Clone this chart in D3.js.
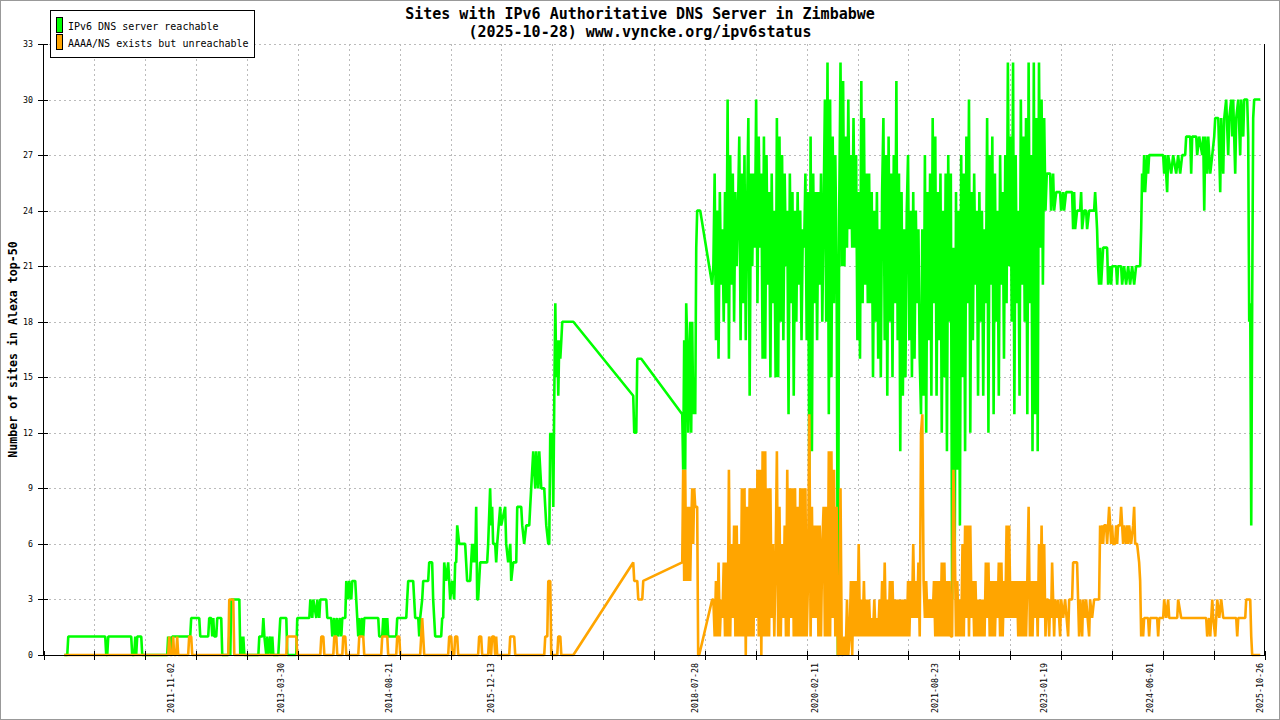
<!DOCTYPE html>
<html>
<head>
<meta charset="utf-8">
<script src="https://cdn.jsdelivr.net/npm/d3@7"></script>
<style>
body { margin: 0; background: #fff; }
text { font-family: "DejaVu Sans Mono", "Liberation Mono", monospace; }
</style>
</head>
<body>
<div id="chart"></div>
<script>
// date labels on the x axis
var xLabels = ["2011-11-02", "2013-03-30", "2014-08-21", "2015-12-13", "2018-07-28",
  "2020-02-11", "2021-08-23", "2023-01-19", "2024-06-01", "2025-10-26"];

// y tick labels
var yTicks = [0, 3, 6, 9, 12, 15, 18, 21, 24, 27, 30, 33];

// time span of the axis
var xStart = "2010-03-13";
var xEnd = "2025-11-18";

// reachable, before the busy period: [decimal year, sites]
var greenEarly = [
  [2010.462,0],[2010.500,0],[2010.513,1],[2010.988,1],[2011.001,0],[2011.014,0],[2011.027,1],
  [2011.322,1],[2011.335,0],[2011.361,0],[2011.374,1],[2011.386,0],[2011.399,1],[2011.451,1],
  [2011.464,0],[2011.785,0],[2011.797,1],[2011.810,0],[2011.823,1],[2011.836,0],[2011.849,1],
  [2012.080,1],[2012.093,2],[2012.196,2],[2012.209,1],[2012.311,1],[2012.324,2],[2012.350,2],
  [2012.363,1],[2012.376,2],[2012.388,1],[2012.414,1],[2012.427,2],[2012.478,2],[2012.491,0],
  [2012.568,0],[2012.581,1],[2012.594,0],[2012.607,3],[2012.710,3],[2012.722,0],[2012.735,1],
  [2012.748,0],[2012.761,1],[2012.774,0],[2012.954,0],[2012.966,1],[2013.005,1],[2013.018,2],
  [2013.031,1],[2013.056,0],[2013.069,1],[2013.082,0],[2013.108,1],[2013.121,0],[2013.133,1],
  [2013.146,0],[2013.210,0],[2013.223,1],[2013.236,2],[2013.313,2],[2013.326,0],[2013.441,0],
  [2013.454,2],[2013.609,2],[2013.622,3],[2013.647,2],[2013.660,3],[2013.699,2],[2013.711,3],
  [2013.737,2],[2013.750,3],[2013.827,3],[2013.840,2],[2013.891,2],[2013.904,1],[2013.930,2],
  [2013.943,1],[2013.968,2],[2013.981,1],[2014.007,2],[2014.020,1],[2014.033,2],[2014.071,2],
  [2014.084,4],[2014.110,3],[2014.122,4],[2014.148,3],[2014.161,4],[2014.199,4],[2014.212,3],
  [2014.225,2],[2014.238,1],[2014.251,2],[2014.264,1],[2014.289,2],[2014.302,1],[2014.315,2],
  [2014.495,2],[2014.508,1],[2014.546,1],[2014.559,2],[2014.572,1],[2014.585,2],[2014.598,1],
  [2014.611,2],[2014.623,1],[2014.726,1],[2014.739,2],[2014.855,2],[2014.867,3],[2014.880,4],
  [2014.944,4],[2014.957,3],[2014.970,2],[2015.009,2],[2015.022,1],[2015.034,2],[2015.060,3],
  [2015.073,4],[2015.137,4],[2015.150,5],[2015.188,5],[2015.201,3],[2015.214,2],[2015.227,1],
  [2015.304,1],[2015.317,2],[2015.330,2],[2015.343,5],[2015.368,4],[2015.394,5],[2015.420,3],
  [2015.445,4],[2015.471,3],[2015.484,5],[2015.497,5],[2015.510,7],[2015.535,6],[2015.612,6],
  [2015.625,5],[2015.638,4],[2015.677,4],[2015.689,5],[2015.702,6],[2015.715,5],[2015.728,6],
  [2015.741,5],[2015.754,8],[2015.767,3],[2015.779,3],[2015.805,5],[2015.895,5],[2015.908,6],
  [2015.933,9],[2015.946,7],[2015.959,8],[2015.972,6],[2015.998,6],[2016.011,5],[2016.024,6],
  [2016.062,8],[2016.075,7],[2016.126,8],[2016.139,6],[2016.165,5],[2016.191,6],[2016.204,4],
  [2016.229,5],[2016.268,5],[2016.281,8],[2016.332,8],[2016.345,7],[2016.370,6],[2016.396,7],
  [2016.435,7],[2016.447,8],[2016.473,10],[2016.486,11],[2016.512,9],[2016.524,11],[2016.550,9],
  [2016.563,11],[2016.589,9],[2016.627,9],[2016.640,8],[2016.653,7],[2016.679,6],[2016.691,6],
  [2016.704,12],[2016.717,11],[2016.730,12],[2016.743,8],[2016.756,14],[2016.769,19],[2016.781,15],
  [2016.794,17],[2016.807,14],[2016.820,17],[2016.833,16],[2016.846,17],[2016.858,18],[2017.000,18],
  [2017.770,14],[2017.783,12],[2017.809,12],[2017.822,16],[2017.873,16],[2018.400,13],[2018.412,10],
  [2018.425,17],[2018.438,10],[2018.451,19],[2018.464,17],[2018.477,12],[2018.502,18],[2018.515,12],
  [2018.528,18],[2018.541,13],[2018.554,15],[2018.567,13],[2018.580,22],[2018.592,24],[2018.631,24],
  [2018.785,20]
];

// the busy period is sampled every sixtieth of a year
var denseStart = 2018.80;
var denseStep = 1 / 60;

var greenDense = [
  21,26,17,24,16,25,20,23,18,25, 19,30,16,27,20,26,18,25,21,24,
  28,17,26,19,27,17,24,29,14,26, 21,26,22,30,19,28,22,26,16,28,
  16,27,20,25,15,26,19,24,15,29, 15,28,18,27,17,26,21,24,13,26,
  19,25,14,24,18,25,20,24,17,23, 22,26,17,25,10,28,11,26,19,25,
  17,25,20,26,18,24,30,18,32,13, 30,15,28,19,27,21,0,24,32,21,
  31,21,28,22,30,23,27,22,29,22, 27,17,25,16,31,19,29,20,26,19,
  26,19,25,15,24,18,25,16,23,15, 25,29,17,27,14,28,18,26,15,27,
  19,31,17,26,11,25,14,23,15,24, 27,17,24,15,25,16,24,19,23,16,
  13,23,14,27,12,25,17,26,14,29, 19,28,14,25,17,26,12,24,15,26,
  11,27,18,26,3,22,5,25,10,24, 7,27,15,26,11,28,19,30,12,25,
  17,26,20,24,14,25,18,24,14,23, 19,29,12,27,20,28,13,26,18,24,
  14,27,20,25,16,27,19,32,21,28, 18,32,13,27,19,24,14,30,20,28,
  18,29,13,32,19,27,11,32,13,29, 11,32,22,30,20,29,24,26
];

var greenLate = [
  [2023.101,26],[2023.127,26],[2023.139,24],[2023.165,26],[2023.178,24],[2023.204,25],[2023.255,25],
  [2023.268,24],[2023.294,25],[2023.306,24],[2023.332,25],[2023.409,25],[2023.422,23],[2023.435,25],
  [2023.448,23],[2023.473,24],[2023.512,24],[2023.525,25],[2023.538,23],[2023.563,24],[2023.589,24],
  [2023.602,23],[2023.628,24],[2023.692,24],[2023.705,25],[2023.718,24],[2023.730,23],[2023.743,21],
  [2023.756,20],[2023.769,22],[2023.782,20],[2023.795,21],[2023.808,22],[2023.859,22],[2023.872,20],
  [2023.898,21],[2023.911,20],[2023.923,21],[2023.975,21],[2023.988,20],[2024.000,21],[2024.039,21],
  [2024.052,20],[2024.077,21],[2024.103,20],[2024.129,21],[2024.154,20],[2024.180,21],[2024.206,20],
  [2024.231,21],[2024.283,21],[2024.296,23],[2024.308,26],[2024.321,25],[2024.334,27],[2024.347,25],
  [2024.373,27],[2024.385,26],[2024.398,27],[2024.578,27],[2024.591,26],[2024.604,27],[2024.629,25],
  [2024.642,27],[2024.681,26],[2024.706,27],[2024.745,26],[2024.770,27],[2024.796,26],[2024.822,27],
  [2024.860,27],[2024.873,28],[2024.925,28],[2024.937,26],[2024.950,28],[2025.002,28],[2025.014,27],
  [2025.040,28],[2025.079,27],[2025.092,28],[2025.105,24],[2025.118,28],[2025.143,26],[2025.156,28],
  [2025.182,26],[2025.208,27],[2025.233,28],[2025.246,29],[2025.285,29],[2025.298,27],[2025.310,25],
  [2025.323,29],[2025.349,26],[2025.362,29],[2025.387,30],[2025.413,27],[2025.426,29],[2025.452,30],
  [2025.464,28],[2025.477,30],[2025.503,26],[2025.516,29],[2025.542,30],[2025.567,27],[2025.580,30],
  [2025.606,28],[2025.619,30],[2025.657,30],[2025.670,28],[2025.683,18],[2025.696,19],[2025.709,7],
  [2025.721,19],[2025.734,29],[2025.747,30],[2025.825,30]
];

// unreachable
var orangeEarly = [
  [2010.462,0],[2011.797,0],[2011.810,1],[2011.823,0],[2011.849,0],[2011.862,1],[2011.874,0],
  [2011.900,0],[2011.913,1],[2011.926,0],[2012.054,0],[2012.067,1],[2012.093,1],[2012.106,0],
  [2012.568,0],[2012.581,3],[2012.632,3],[2012.645,0],[2013.313,0],[2013.326,1],[2013.441,1],
  [2013.454,0],[2013.750,0],[2013.763,1],[2013.789,1],[2013.802,0],[2013.917,0],[2013.930,1],
  [2013.956,1],[2013.968,0],[2014.033,0],[2014.045,1],[2014.071,1],[2014.084,0],[2014.238,0],
  [2014.251,1],[2014.302,1],[2014.315,0],[2014.533,0],[2014.546,1],[2014.611,1],[2014.623,0],
  [2014.726,0],[2014.739,1],[2014.765,1],[2014.778,0],[2015.034,0],[2015.047,1],[2015.060,2],
  [2015.073,1],[2015.086,0],[2015.394,0],[2015.407,1],[2015.433,1],[2015.445,0],[2015.471,0],
  [2015.484,1],[2015.510,1],[2015.523,0],[2015.779,0],[2015.792,1],[2015.818,1],[2015.831,0],
  [2015.908,0],[2015.921,1],[2015.946,0],[2015.959,1],[2015.985,1],[2015.998,0],[2016.011,1],
  [2016.024,0],[2016.178,0],[2016.191,1],[2016.242,1],[2016.255,0],[2016.627,0],[2016.640,1],
  [2016.666,1],[2016.679,4],[2016.704,4],[2016.717,0],[2016.794,0],[2016.807,1],[2016.833,1],
  [2016.846,0],[2017.000,0],[2017.770,5],[2017.783,4],[2017.822,4],[2017.835,3],[2017.886,3],
  [2017.899,4],[2018.400,5],[2018.412,10],[2018.425,4],[2018.438,10],[2018.451,4],[2018.464,8],
  [2018.477,4],[2018.490,8],[2018.502,4],[2018.515,7],[2018.528,9],[2018.541,6],[2018.554,9],
  [2018.567,8],[2018.592,8],[2018.605,0],[2018.618,0],[2018.785,3]
];

var orangeDense = [
  3,1,4,1,5,1,3,2,5,1, 5,1,10,1,6,2,7,1,7,1,
  6,1,9,1,9,0,8,1,9,1, 9,1,9,2,10,1,10,0,11,1,
  11,1,9,1,9,2,6,1,5,11, 1,8,1,6,2,7,1,10,1,9,
  2,9,1,9,1,8,1,9,1,9, 1,9,1,4,13,1,8,2,7,2,
  7,1,7,1,6,8,1,8,1,11, 1,11,2,10,1,8,0,0,9,0,
  0,1,0,3,0,1,4,0,4,1, 4,1,6,1,3,1,4,1,3,1,
  3,1,2,1,3,1,2,1,3,1, 4,1,5,1,3,1,4,1,4,1,
  3,1,3,1,3,1,3,1,3,1, 4,1,4,2,6,2,4,2,5,1,
  12,13,4,2,4,2,3,2,3,2, 4,1,4,1,4,1,5,1,5,1,
  4,1,4,1,1,10,6,1,4,1, 3,1,6,1,7,2,7,1,7,2,
  4,1,4,1,3,1,3,1,3,1, 5,2,5,1,4,1,4,1,4,2,
  5,1,5,1,4,2,7,2,7,2, 4,2,4,2,4,1,4,1,4,1,
  4,1,4,8,1,4,1,4,2,4, 1,6,2,7,2,6,1,3
];

var orangeLate = [
  [2023.101,3],[2023.114,1],[2023.127,3],[2023.139,2],[2023.152,5],[2023.165,3],[2023.178,1],
  [2023.191,3],[2023.216,2],[2023.229,3],[2023.255,1],[2023.268,3],[2023.294,2],[2023.319,3],
  [2023.358,1],[2023.371,3],[2023.409,3],[2023.422,5],[2023.473,5],[2023.486,3],[2023.499,1],
  [2023.512,3],[2023.538,1],[2023.550,3],[2023.576,2],[2023.589,3],[2023.628,1],[2023.640,3],
  [2023.666,2],[2023.692,3],[2023.756,3],[2023.769,7],[2023.782,6],[2023.795,7],[2023.808,6],
  [2023.821,7],[2023.846,7],[2023.859,6],[2023.872,7],[2023.885,8],[2023.898,7],[2023.911,6],
  [2023.923,7],[2023.936,6],[2023.962,6],[2023.975,7],[2023.988,6],[2024.000,7],[2024.026,7],
  [2024.039,8],[2024.052,7],[2024.065,6],[2024.077,7],[2024.103,6],[2024.116,7],[2024.129,6],
  [2024.142,7],[2024.167,6],[2024.193,7],[2024.206,8],[2024.219,6],[2024.244,6],[2024.270,5],
  [2024.283,4],[2024.296,1],[2024.308,2],[2024.321,1],[2024.334,2],[2024.385,2],[2024.398,1],
  [2024.411,2],[2024.501,2],[2024.514,1],[2024.527,2],[2024.578,2],[2024.591,3],[2024.617,2],
  [2024.642,3],[2024.655,2],[2024.758,2],[2024.770,3],[2024.809,2],[2025.130,2],[2025.143,1],
  [2025.169,2],[2025.182,1],[2025.195,2],[2025.208,3],[2025.220,2],[2025.246,1],[2025.259,2],
  [2025.272,3],[2025.298,2],[2025.323,3],[2025.349,2],[2025.516,2],[2025.529,1],[2025.542,2],
  [2025.632,2],[2025.644,3],[2025.696,3],[2025.709,1],[2025.721,0],[2025.825,0]
];

var W = 1280, H = 720;
var plotLeft = 43.5, plotRight = 1264.5, plotTop = 44, plotBottom = 655;

var parseDay = d3.utcParse("%Y-%m-%d");

// decimal year -> Date
function yearToDate(t) {
  var yr = Math.floor(t);
  var a = Date.UTC(yr, 0, 1), b = Date.UTC(yr + 1, 0, 1);
  return new Date(a + (t - yr) * (b - a));
}

function buildSeries(early, dense, late) {
  var pts = early.map(function(p) { return { date: yearToDate(p[0]), v: p[1] }; });
  dense.forEach(function(v, i) {
    pts.push({ date: yearToDate(denseStart + i * denseStep), v: v });
  });
  late.forEach(function(p) { pts.push({ date: yearToDate(p[0]), v: p[1] }); });
  return pts;
}

var greenData = buildSeries(greenEarly, greenDense, greenLate);
var orangeData = buildSeries(orangeEarly, orangeDense, orangeLate);

var svg = d3.select("#chart")
  .append("svg")
  .attr("width", W)
  .attr("height", H);

svg.append("rect")
  .attr("x", 0.5).attr("y", 0.5)
  .attr("width", W - 1).attr("height", H - 1)
  .attr("fill", "#fff")
  .attr("stroke", "#999");

var x = d3.scaleUtc()
  .domain([parseDay(xStart), parseDay(xEnd)])
  .range([plotLeft, plotRight]);

var y = d3.scaleLinear()
  .domain([0, 33])
  .range([plotBottom, plotTop]);

// 24 equal intervals along the x axis
var d0 = x.domain()[0], d1 = x.domain()[1];
var majorTicks = d3.range(25).map(function(i) {
  return new Date(+d0 + i * (d1 - d0) / 24);
});

// grid
var grid = svg.append("g").attr("class", "grid")
  .attr("stroke", "#bbb")
  .attr("stroke-dasharray", "2,3")
  .attr("shape-rendering", "crispEdges");

grid.selectAll("line.h")
  .data(yTicks.filter(function(d) { return d > 0; }))
  .enter().append("line")
  .attr("class", "h")
  .attr("x1", plotLeft).attr("x2", plotRight)
  .attr("y1", function(d) { return Math.round(y(d)) + 0.5; })
  .attr("y2", function(d) { return Math.round(y(d)) + 0.5; });

grid.selectAll("line.v")
  .data(majorTicks.slice(1, -1))
  .enter().append("line")
  .attr("class", "v")
  .attr("x1", function(d) { return Math.round(x(d)) + 0.5; })
  .attr("x2", function(d) { return Math.round(x(d)) + 0.5; })
  .attr("y1", plotTop).attr("y2", plotBottom);

// series
var line = d3.line()
  .x(function(d) { return x(d.date); })
  .y(function(d) { return y(d.v); });

svg.append("path")
  .datum(greenData)
  .attr("d", line)
  .attr("fill", "none")
  .attr("stroke", "#00ff00")
  .attr("stroke-width", 2.6)
  .attr("stroke-linejoin", "bevel");

svg.append("path")
  .datum(orangeData)
  .attr("d", line)
  .attr("fill", "none")
  .attr("stroke", "#ffa500")
  .attr("stroke-width", 2.6)
  .attr("stroke-linejoin", "bevel");

// axes
var axes = svg.append("g")
  .attr("stroke", "#000")
  .attr("shape-rendering", "crispEdges");

axes.append("line")
  .attr("x1", plotLeft).attr("x2", plotLeft)
  .attr("y1", plotTop).attr("y2", plotBottom);
axes.append("line")
  .attr("x1", plotRight).attr("x2", plotRight)
  .attr("y1", plotTop).attr("y2", plotBottom);
axes.append("line")
  .attr("x1", plotLeft).attr("x2", plotRight)
  .attr("y1", plotBottom + 0.5).attr("y2", plotBottom + 0.5);

axes.selectAll("line.yt")
  .data(yTicks)
  .enter().append("line")
  .attr("class", "yt")
  .attr("x1", 38).attr("x2", 48)
  .attr("y1", function(d) { return Math.round(y(d)) + 0.5; })
  .attr("y2", function(d) { return Math.round(y(d)) + 0.5; });

axes.selectAll("line.xt")
  .data(majorTicks)
  .enter().append("line")
  .attr("class", "xt")
  .attr("x1", function(d) { return Math.round(x(d)) + 0.5; })
  .attr("x2", function(d) { return Math.round(x(d)) + 0.5; })
  .attr("y1", plotBottom - 4).attr("y2", plotBottom + 5);

svg.selectAll("text.ylab")
  .data(yTicks)
  .enter().append("text")
  .attr("class", "ylab")
  .attr("x", 33)
  .attr("y", function(d) { return y(d) + 3; })
  .attr("text-anchor", "end")
  .attr("font-size", "8.3px")
  .text(function(d) { return d; });

svg.selectAll("text.xlab")
  .data(xLabels)
  .enter().append("text")
  .attr("class", "xlab")
  .attr("transform", function(d) {
    return "translate(" + (x(parseDay(d)) + 3) + "," + 663 + ")rotate(-90)";
  })
  .attr("text-anchor", "end")
  .attr("font-size", "8.3px")
  .text(function(d) { return d; });

// titles
svg.append("text")
  .attr("x", 640).attr("y", 19)
  .attr("text-anchor", "middle")
  .attr("font-size", "15px")
  .attr("font-weight", "bold")
  .text("Sites with IPv6 Authoritative DNS Server in Zimbabwe");

svg.append("text")
  .attr("x", 640).attr("y", 37)
  .attr("text-anchor", "middle")
  .attr("font-size", "15px")
  .attr("font-weight", "bold")
  .text("(2025-10-28) www.vyncke.org/ipv6status");

svg.append("text")
  .attr("transform", "translate(17," + ((plotTop + plotBottom) / 2) + ")rotate(-90)")
  .attr("text-anchor", "middle")
  .attr("font-size", "11.6px")
  .attr("font-weight", "bold")
  .text("Number of sites in Alexa top-50");

// legend
var legend = svg.append("g");
legend.append("rect")
  .attr("x", 50.5).attr("y", 10.5)
  .attr("width", 204).attr("height", 47)
  .attr("fill", "#fff")
  .attr("stroke", "#000");

var legendItems = [
  { name: "IPv6 DNS server reachable", color: "#00ff00" },
  { name: "AAAA/NS exists but unreachable", color: "#ffa500" }
];

legendItems.forEach(function(item, i) {
  legend.append("rect")
    .attr("x", 56.5).attr("y", 17.5 + i * 17)
    .attr("width", 6).attr("height", 15)
    .attr("fill", item.color)
    .attr("stroke", "#000");
  legend.append("text")
    .attr("x", 68).attr("y", 29.5 + i * 17)
    .attr("font-size", "10px")
    .text(item.name);
});
</script>
</body>
</html>
